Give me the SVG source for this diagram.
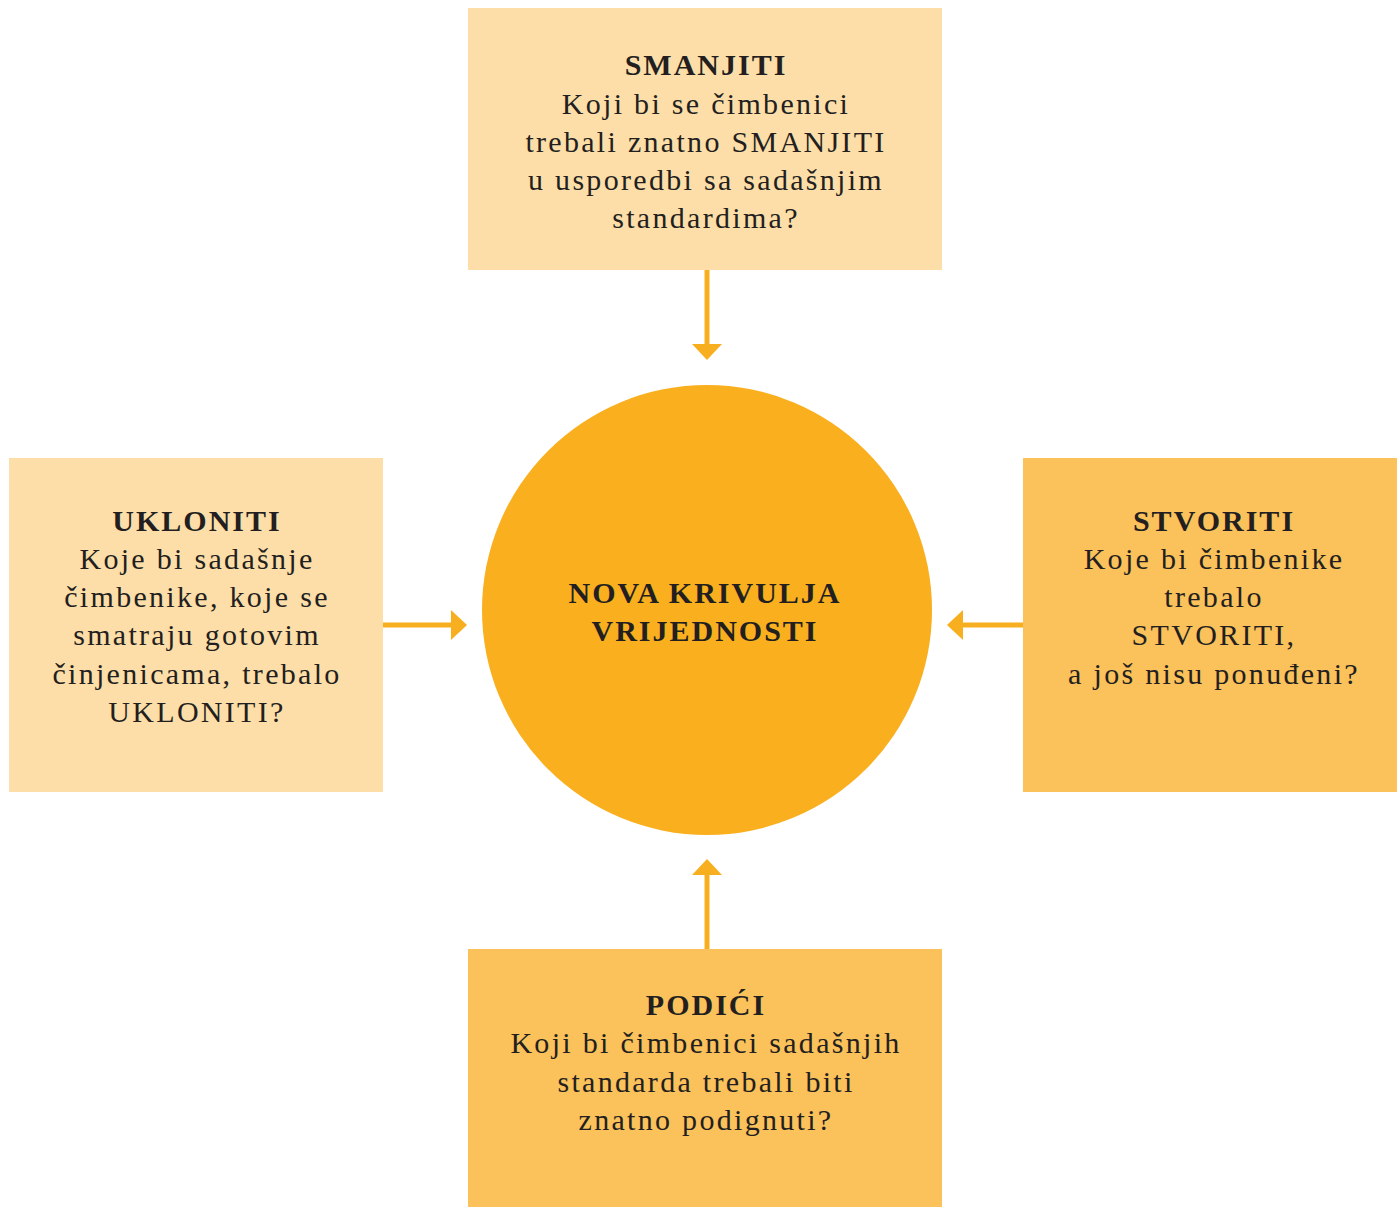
<svg xmlns="http://www.w3.org/2000/svg" width="1400" height="1207" viewBox="0 0 1400 1207">
<defs>
<style>
.t{font-family:"Liberation Serif","DejaVu Serif",serif;font-size:30px;fill:#231F20;text-anchor:middle;letter-spacing:2.3px}
.b{font-weight:bold;letter-spacing:2px}
.light{fill:#FDDEA8}
.dark{fill:#FBC15A}
.conn line{stroke:#F8AF1F;stroke-width:5}
.conn polygon{fill:#F8AF1F}
</style>
</defs>
<rect width="1400" height="1207" fill="#FFFFFF"/>
<g id="connectors" class="conn">
<line x1="707" y1="270" x2="707" y2="346"/>
<polygon points="692,344 722,344 707,360"/>
<line x1="383" y1="625" x2="453" y2="625"/>
<polygon points="451,610 451,640 467,625"/>
<line x1="1023" y1="625" x2="961" y2="625"/>
<polygon points="963,610 963,640 947,625"/>
<line x1="707" y1="949" x2="707" y2="873"/>
<polygon points="692,875 722,875 707,859"/>
</g>
<g id="center">
<circle cx="707" cy="610" r="225" fill="#F9AF1E"/>
<text class="t b" x="705" y="603">NOVA KRIVULJA</text>
<text class="t b" x="705" y="641">VRIJEDNOSTI</text>
</g>
<g id="smanjiti">
<rect class="light" x="468" y="8" width="474" height="262"/>
<text class="t b" x="706" y="75">SMANJITI</text>
<text class="t" x="706" y="114">Koji bi se čimbenici</text>
<text class="t" x="706" y="152">trebali znatno SMANJITI</text>
<text class="t" x="706" y="190">u usporedbi sa sadašnjim</text>
<text class="t" x="706" y="228">standardima?</text>
</g>
<g id="ukloniti">
<rect class="light" x="9" y="458" width="374" height="334"/>
<text class="t b" x="197" y="531">UKLONITI</text>
<text class="t" x="197" y="569">Koje bi sadašnje</text>
<text class="t" x="197" y="607">čimbenike, koje se</text>
<text class="t" x="197" y="645">smatraju gotovim</text>
<text class="t" x="197" y="684">činjenicama, trebalo</text>
<text class="t" x="197" y="722">UKLONITI?</text>
</g>
<g id="stvoriti">
<rect class="dark" x="1023" y="458" width="374" height="334"/>
<text class="t b" x="1214" y="531">STVORITI</text>
<text class="t" x="1214" y="569">Koje bi čimbenike</text>
<text class="t" x="1214" y="607">trebalo</text>
<text class="t" x="1214" y="645">STVORITI,</text>
<text class="t" x="1214" y="684">a još nisu ponuđeni?</text>
</g>
<g id="podici">
<rect class="dark" x="468" y="949" width="474" height="258"/>
<text class="t b" x="706" y="1015">PODIĆI</text>
<text class="t" x="706" y="1053">Koji bi čimbenici sadašnjih</text>
<text class="t" x="706" y="1092">standarda trebali biti</text>
<text class="t" x="706" y="1130">znatno podignuti?</text>
</g>
</svg>
